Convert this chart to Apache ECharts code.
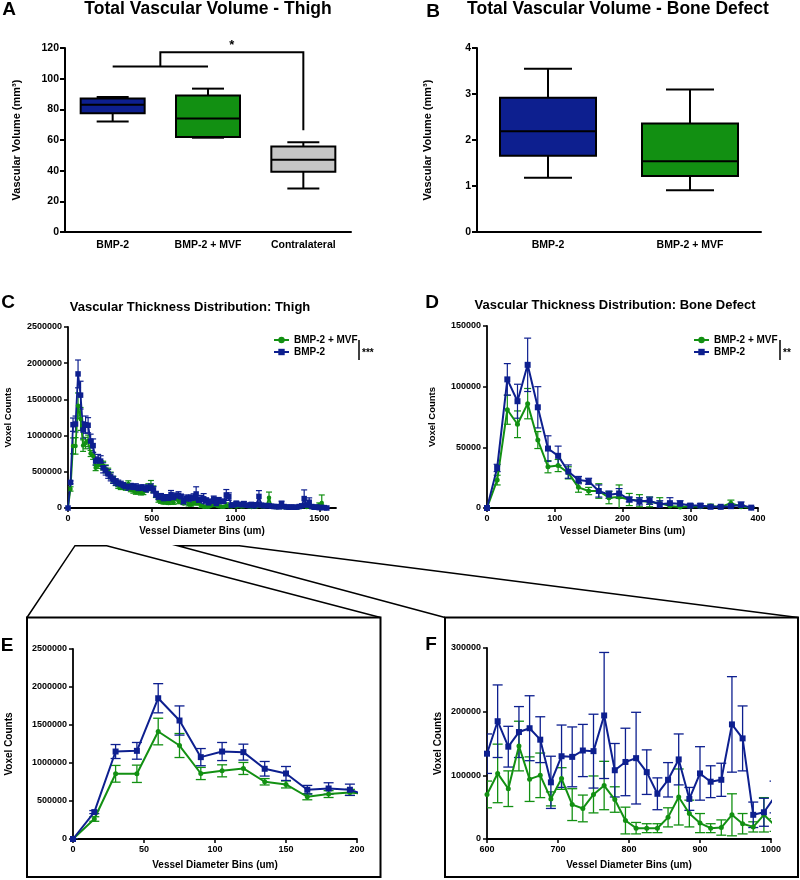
<!DOCTYPE html>
<html>
<head>
<meta charset="utf-8">
<title>Vascular volume and thickness distribution</title>
<script src="https://cdn.jsdelivr.net/npm/echarts@6.0.0/dist/echarts.min.js"></script>
<style>
  html, body { margin: 0; padding: 0; background: #fff; }
  #chart { width: 800px; height: 880px; }
</style>
</head>
<body>
<div id="chart"></div>
<script>
(function () {
  const FONT = "'Liberation Sans', Arial, sans-serif";
  const BLUE = "#0d1f8f";
  const GREEN = "#129012";
  const GREY = "#c6c6c6";

  // A: total vascular volume, thigh  [min, q1, median, q3, max]
  const catsA = ["BMP-2", "BMP-2 + MVF", "Contralateral"];
  const boxA = [
    [72, 77.5, 83, 87, 88],
    [61.5, 62, 74, 89, 93.5],
    [28.3, 39.3, 47.2, 55.8, 58.6],
  ];
  const bracketLowA = 108;
  const bracketHighA = 117.3;
  const bracketDropA = 66.3;

  // B: total vascular volume, bone defect
  const catsB = ["BMP-2", "BMP-2 + MVF"];
  const boxB = [
    [1.18, 1.66, 2.19, 2.92, 3.55],
    [0.91, 1.22, 1.54, 2.36, 3.1],
  ];

  // thigh distribution (C, E, F share these)
  const thighBins = [
    0, 15, 30, 45, 60, 75, 90, 105, 120, 135, 150, 165, 180, 195,
    210, 225, 240, 255, 270, 285, 300, 315, 330, 345, 360, 375, 390, 405, 420, 435, 450, 465, 480, 495, 510, 525, 540, 555, 570, 585,
    600, 615, 630, 645, 660, 675, 690, 705, 720, 735, 750, 765, 780, 795, 810, 825, 840, 855, 870, 885, 900, 915, 930, 945, 960, 975, 990,
    1005, 1020, 1035, 1050, 1065, 1080, 1095, 1110, 1125, 1140, 1155, 1170, 1185, 1200, 1215, 1230, 1245, 1260, 1275, 1290,
    1305, 1320, 1335, 1350, 1365, 1380, 1395, 1410, 1425, 1440, 1455, 1470, 1485, 1500, 1515, 1530, 1545,
  ];
  const thighBmp = [
    0, 354000, 1151000, 1160000, 1852000, 1559000, 1077000, 1151000, 1143000, 924000, 862000, 648000, 665000, 648000,
    555000, 520000, 470000, 430000, 390000, 360000, 340000, 330000, 310000, 300000, 290000, 300000, 285000, 290000, 270000, 280000, 275000, 260000, 280000, 290000, 250000, 190000, 150000, 160000, 130000, 150000,
    134000, 185000, 145000, 168000, 174000, 156000, 89000, 130000, 129000, 139000, 138000, 194000, 108000, 121000, 127000, 105000, 71000, 93000, 125000, 63000, 103000, 90000, 93000, 180000, 158000, 38000, 42000,
    66000, 50000, 45000, 60000, 40000, 35000, 50000, 30000, 45000, 160000, 40000, 30000, 35000, 30000, 25000, 20000, 20000, 15000, 60000, 20000,
    15000, 10000, 15000, 10000, 12000, 20000, 30000, 130000, 40000, 80000, 20000, 10000, 15000, 5000, 8000, 5000, 0,
  ];
  const thighBmpErr = [
    0, 20000, 92000, 110000, 192000, 192000, 113000, 119000, 105000, 96000, 92000, 57000, 75000, 74000,
    70000, 65000, 60000, 55000, 50000, 45000, 45000, 40000, 40000, 40000, 45000, 40000, 40000, 45000, 40000, 40000, 45000, 40000, 40000, 45000, 45000, 40000, 35000, 40000, 35000, 35000,
    31000, 57000, 32000, 40000, 51000, 36000, 41000, 49000, 47000, 41000, 58000, 99000, 42000, 53000, 72000, 35000, 25000, 27000, 40000, 18000, 42000, 25000, 26000, 75000, 51000, 20000, 22000,
    25000, 20000, 20000, 30000, 20000, 15000, 25000, 15000, 20000, 80000, 20000, 15000, 15000, 15000, 10000, 10000, 10000, 10000, 35000, 10000,
    8000, 5000, 8000, 5000, 6000, 10000, 15000, 120000, 25000, 60000, 10000, 5000, 8000, 3000, 4000, 3000, 0,
  ];
  const thighMvf = [
    0, 263000, 858000, 858000, 1414000, 1230000, 862000, 897000, 928000, 753000, 718000, 556000, 591000, 613000,
    586000, 540000, 500000, 450000, 390000, 350000, 310000, 290000, 300000, 280000, 330000, 260000, 240000, 220000, 230000, 210000, 220000, 260000, 290000, 310000, 260000, 180000, 110000, 90000, 75000, 80000,
    70000, 103000, 79000, 146000, 94000, 100000, 63000, 95000, 54000, 48000, 70000, 84000, 62000, 29000, 17000, 17000, 17000, 34000, 66000, 40000, 25000, 17000, 18000, 38000, 24000, 19000, 38000,
    22000, 30000, 20000, 25000, 30000, 20000, 15000, 25000, 20000, 40000, 25000, 20000, 30000, 140000, 30000, 15000, 10000, 20000, 15000, 10000,
    8000, 10000, 12000, 8000, 5000, 10000, 20000, 30000, 15000, 20000, 10000, 5000, 10000, 40000, 70000, 10000, 0,
  ];
  const thighMvfErr = [
    0, 30000, 110000, 114000, 175000, 158000, 80000, 79000, 79000, 42000, 46000, 40000, 45000, 40000,
    60000, 55000, 50000, 45000, 45000, 40000, 40000, 35000, 40000, 35000, 45000, 35000, 35000, 30000, 35000, 30000, 35000, 40000, 45000, 70000, 45000, 35000, 30000, 25000, 20000, 20000,
    21000, 46000, 28000, 39000, 35000, 35000, 11000, 17000, 25000, 21000, 29000, 38000, 20000, 21000, 9000, 7000, 7000, 15000, 44000, 21000, 15000, 7000, 12000, 33000, 16000, 8000, 27000,
    10000, 15000, 10000, 12000, 15000, 10000, 8000, 12000, 10000, 20000, 12000, 10000, 15000, 80000, 15000, 8000, 5000, 10000, 8000, 5000,
    4000, 5000, 6000, 4000, 3000, 5000, 10000, 15000, 8000, 10000, 5000, 3000, 5000, 30000, 110000, 5000, 0,
  ];

  // D: bone defect distribution
  const defectBins = [0, 15, 30, 45, 60, 75, 90, 105, 120, 135, 150, 165, 180, 195, 210, 225, 240, 255, 270, 285, 300, 315, 330, 345, 360, 375, 390];
  const defectBmp = [0, 33000, 106000, 88000, 118000, 83000, 49000, 43000, 30000, 23000, 22000, 14000, 11000, 12000, 7000, 5500, 6000, 3000, 4000, 3500, 2000, 2000, 1000, 1000, 1500, 2500, 300];
  const defectBmpErr = [0, 3000, 13000, 14000, 22000, 17000, 10500, 8000, 5500, 3000, 2500, 5000, 3000, 4000, 2000, 3000, 3000, 3000, 4500, 2500, 1500, 1500, 1000, 1000, 1500, 2500, 500];
  const defectMvf = [0, 23000, 81000, 69000, 86000, 56000, 34000, 35000, 29000, 17000, 14000, 14000, 8500, 9000, 7000, 6000, 5000, 4000, 1600, 800, 1400, 1000, 1600, 800, 4000, 1000, 300];
  const defectMvfErr = [0, 4000, 12000, 11000, 12500, 7000, 5000, 5000, 5000, 4000, 3000, 6000, 5000, 10000, 5000, 5000, 4000, 4500, 2000, 1500, 1500, 1000, 1500, 1000, 2500, 1500, 500];

  const ticksC = [0, 500, 1000, 1500];

  const chart = echarts.init(document.getElementById("chart"));

  function txt(size) {
    return { fontFamily: FONT, fontWeight: "bold", fontSize: size, color: "#000" };
  }

  function boxRender(boxW, fills) {
    return function (params, api) {
      const i = api.value(0);
      const p = [1, 2, 3, 4, 5].map((k) => api.coord([i, api.value(k)]));
      const cx = p[0][0];
      const hw = boxW / 2;
      const cw = boxW / 4;
      const ls = { stroke: "#000", lineWidth: 2 };
      return {
        type: "group",
        children: [
          { type: "line", shape: { x1: cx, y1: p[0][1], x2: cx, y2: p[1][1] }, style: ls },
          { type: "line", shape: { x1: cx, y1: p[3][1], x2: cx, y2: p[4][1] }, style: ls },
          { type: "line", shape: { x1: cx - cw, y1: p[0][1], x2: cx + cw, y2: p[0][1] }, style: ls },
          { type: "line", shape: { x1: cx - cw, y1: p[4][1], x2: cx + cw, y2: p[4][1] }, style: ls },
          {
            type: "rect",
            shape: { x: cx - hw, y: p[3][1], width: boxW, height: p[1][1] - p[3][1] },
            style: { fill: fills[params.dataIndex], stroke: "#000", lineWidth: 2 },
          },
          { type: "line", shape: { x1: cx - hw, y1: p[2][1], x2: cx + hw, y2: p[2][1] }, style: ls },
        ],
      };
    };
  }

  function errRender(cap, color, width) {
    return function (params, api) {
      const lo = api.coord([api.value(0), api.value(1)]);
      const hi = api.coord([api.value(0), api.value(2)]);
      const st = { stroke: color, lineWidth: width };
      return {
        type: "group",
        children: [
          { type: "line", shape: { x1: lo[0], y1: lo[1], x2: hi[0], y2: hi[1] }, style: st },
          { type: "line", shape: { x1: lo[0] - cap, y1: lo[1], x2: lo[0] + cap, y2: lo[1] }, style: st },
          { type: "line", shape: { x1: hi[0] - cap, y1: hi[1], x2: hi[0] + cap, y2: hi[1] }, style: st },
        ],
      };
    };
  }

  function lineSeries(name, g, xs, ys, color, symbol, size, width) {
    return {
      name: name,
      type: "line",
      xAxisIndex: g,
      yAxisIndex: g,
      data: xs.map((x, i) => [x, ys[i]]),
      symbol: symbol,
      symbolSize: size,
      showSymbol: true,
      showAllSymbol: true,
      lineStyle: { color: color, width: width },
      itemStyle: { color: color },
      emphasis: { disabled: true },
      clip: true,
      z: 3,
    };
  }

  function errSeries(g, xs, ys, es, color, cap, width) {
    return {
      name: "err" + g + color,
      type: "custom",
      xAxisIndex: g,
      yAxisIndex: g,
      clip: true,
      data: xs.map((x, i) => [x, ys[i] - es[i], ys[i] + es[i]]),
      encode: { x: 0, y: [1, 2] },
      renderItem: errRender(cap, color, width),
      z: 2,
    };
  }

  function catAxis(g, cats) {
    return {
      type: "category",
      gridIndex: g,
      data: cats,
      axisLine: { lineStyle: { color: "#000", width: 2 } },
      axisTick: { alignWithLabel: true, length: 5, lineStyle: { color: "#000", width: 2 } },
      axisLabel: Object.assign({ interval: 0, margin: 8 }, txt(10.5)),
      splitLine: { show: false },
    };
  }

  function valAxis(g, min, max, interval, fontSize, extra) {
    return Object.assign(
      {
        type: "value",
        gridIndex: g,
        min: min,
        max: max,
        interval: interval,
        axisLine: { show: true, lineStyle: { color: "#000", width: 1.8 } },
        axisTick: { show: true, length: 4, lineStyle: { color: "#000", width: 1.5 } },
        axisLabel: Object.assign({ margin: 6, formatter: (v) => String(v) }, txt(fontSize)),
        splitLine: { show: false },
      },
      extra || {}
    );
  }

  function yName(name, gap, size) {
    return { name: name, nameLocation: "middle", nameGap: gap, nameRotate: 90, nameTextStyle: txt(size) };
  }

  function xName(name, gap) {
    return { name: name, nameLocation: "middle", nameGap: gap, nameTextStyle: txt(10) };
  }

  const legendBase = {
    data: ["BMP-2 + MVF", "BMP-2"],
    orient: "vertical",
    top: 335,
    padding: 0,
    itemGap: 2,
    itemWidth: 15,
    itemHeight: 8,
    selectedMode: false,
    textStyle: txt(10),
  };

  const option = {
    animation: false,
    backgroundColor: "#fff",
    textStyle: { fontFamily: FONT },
    grid: [
      { left: 65, top: 48, width: 286, height: 184 },
      { left: 477, top: 48, width: 284, height: 184 },
      { left: 68, top: 327, width: 268, height: 181 },
      { left: 487, top: 326, width: 271, height: 182 },
      { left: 73, top: 649, width: 284, height: 190 },
      { left: 487, top: 648, width: 284, height: 191 },
    ],
    legend: [
      Object.assign({ left: 273 }, legendBase),
      Object.assign({ left: 693 }, legendBase),
    ],
    xAxis: [
      catAxis(0, catsA),
      catAxis(1, catsB),
      valAxis(2, 0, 1600, 500, 9, Object.assign(xName("Vessel Diameter Bins (um)", 18), {
        axisTick: { show: true, length: 4, customValues: ticksC, lineStyle: { color: "#000", width: 1.5 } },
        axisLabel: Object.assign({ margin: 6, customValues: ticksC, formatter: (v) => String(v) }, txt(9)),
      })),
      valAxis(3, 0, 400, 100, 9, xName("Vessel Diameter Bins (um)", 18)),
      valAxis(4, 0, 200, 50, 9, xName("Vessel Diameter Bins (um)", 21)),
      valAxis(5, 600, 1000, 100, 9, xName("Vessel Diameter Bins (um)", 21)),
    ],
    yAxis: [
      valAxis(0, 0, 120, 20, 10.5, Object.assign(yName("Vascular Volume (mm³)", 43, 11), {
        axisLine: { show: true, lineStyle: { color: "#000", width: 2 } },
        axisTick: { show: true, length: 5, lineStyle: { color: "#000", width: 2 } },
      })),
      valAxis(1, 0, 4, 1, 10.5, Object.assign(yName("Vascular Volume (mm³)", 44, 11), {
        axisLine: { show: true, lineStyle: { color: "#000", width: 2 } },
        axisTick: { show: true, length: 5, lineStyle: { color: "#000", width: 2 } },
      })),
      valAxis(2, 0, 2500000, 500000, 9, yName("Voxel Counts", 55, 9.5)),
      valAxis(3, 0, 150000, 50000, 9, yName("Voxel Counts", 50, 9.5)),
      valAxis(4, 0, 2500000, 500000, 9, yName("Voxel Counts", 59, 10)),
      valAxis(5, 0, 300000, 100000, 9, yName("Voxel Counts", 44, 10)),
    ],
    series: [
      {
        name: "Thigh volume",
        type: "custom",
        xAxisIndex: 0,
        yAxisIndex: 0,
        data: boxA.map((b, i) => [i].concat(b)),
        encode: { x: 0, y: [1, 2, 3, 4, 5] },
        renderItem: boxRender(64, [BLUE, GREEN, GREY]),
      },
      {
        name: "Defect volume",
        type: "custom",
        xAxisIndex: 1,
        yAxisIndex: 1,
        data: boxB.map((b, i) => [i].concat(b)),
        encode: { x: 0, y: [1, 2, 3, 4, 5] },
        renderItem: boxRender(96, [BLUE, GREEN]),
      },
      // C
      errSeries(2, thighBins, thighMvf, thighMvfErr, GREEN, 3, 1.2),
      lineSeries("BMP-2 + MVF", 2, thighBins, thighMvf, GREEN, "circle", 4.5, 1.8),
      errSeries(2, thighBins, thighBmp, thighBmpErr, BLUE, 3, 1.2),
      lineSeries("BMP-2", 2, thighBins, thighBmp, BLUE, "rect", 5.5, 1.8),
      // D
      errSeries(3, defectBins, defectMvf, defectMvfErr, GREEN, 3.5, 1.2),
      lineSeries("BMP-2 + MVF", 3, defectBins, defectMvf, GREEN, "circle", 5, 2),
      errSeries(3, defectBins, defectBmp, defectBmpErr, BLUE, 3.5, 1.2),
      lineSeries("BMP-2", 3, defectBins, defectBmp, BLUE, "rect", 6, 2),
      // E
      errSeries(4, thighBins, thighMvf, thighMvfErr, GREEN, 5, 1.3),
      lineSeries("BMP-2 + MVF", 4, thighBins, thighMvf, GREEN, "circle", 5, 2),
      errSeries(4, thighBins, thighBmp, thighBmpErr, BLUE, 5, 1.3),
      lineSeries("BMP-2", 4, thighBins, thighBmp, BLUE, "rect", 6, 2),
      // F
      errSeries(5, thighBins, thighMvf, thighMvfErr, GREEN, 5, 1.3),
      lineSeries("BMP-2 + MVF", 5, thighBins, thighMvf, GREEN, "circle", 5, 2),
      errSeries(5, thighBins, thighBmp, thighBmpErr, BLUE, 5, 1.3),
      lineSeries("BMP-2", 5, thighBins, thighBmp, BLUE, "rect", 6, 2),
    ],
  };

  chart.setOption(option);

  // annotations: panel letters, titles, significance marks, zoom boxes
  function label(x, y, text, size, align) {
    return {
      type: "text",
      x: x,
      y: y,
      style: {
        text: text,
        fontFamily: FONT,
        fontWeight: "bold",
        fontSize: size,
        fill: "#000",
        align: align || "center",
        verticalAlign: "middle",
      },
    };
  }

  function seg(points, width) {
    return { type: "polyline", shape: { points: points }, style: { stroke: "#000", lineWidth: width, fill: null } };
  }

  const pA = catsA.map((c, i) => chart.convertToPixel({ gridIndex: 0 }, [i, bracketLowA]));
  const yHigh = chart.convertToPixel({ gridIndex: 0 }, [0, bracketHighA])[1];
  const yDrop = chart.convertToPixel({ gridIndex: 0 }, [0, bracketDropA])[1];
  const midX = (pA[0][0] + pA[1][0]) / 2;

  chart.setOption({
    graphic: [
      label(9, 10, "A", 19),
      label(208, 9, "Total Vascular Volume - Thigh", 17.5),
      label(433, 12, "B", 19),
      label(618, 9, "Total Vascular Volume - Bone Defect", 17.5),
      label(8, 303, "C", 19),
      label(190, 307, "Vascular Thickness Distribution: Thigh", 13),
      label(432, 303, "D", 19),
      label(615, 305, "Vascular Thickness Distribution: Bone Defect", 13),
      label(7, 646, "E", 19),
      label(431, 645, "F", 19),
      seg([[pA[0][0], pA[0][1]], [pA[1][0], pA[1][1]]], 2),
      seg([[midX, pA[0][1]], [midX, yHigh], [pA[2][0], yHigh], [pA[2][0], yDrop]], 2),
      label((midX + pA[2][0]) / 2, yHigh - 7, "*", 13),
      seg([[359, 340], [359, 360]], 1.5),
      label(362, 353, "***", 10, "left"),
      seg([[780, 340], [780, 360]], 1.5),
      label(783, 353, "**", 10, "left"),
      { type: "rect", shape: { x: 27, y: 617.5, width: 353.5, height: 259.5 }, style: { stroke: "#000", lineWidth: 2, fill: null } },
      { type: "rect", shape: { x: 445, y: 617.5, width: 353, height: 259.5 }, style: { stroke: "#000", lineWidth: 2, fill: null } },
      seg([[27, 617.5], [75, 545.7], [106.7, 545.7], [380.5, 617.5]], 1.5),
      seg([[445, 617.5], [177.7, 545.7], [239.3, 545.7], [798, 617.5]], 1.5),
    ],
  });

  window.addEventListener("resize", () => {
    chart.resize();
  });
})();
</script>
</body>
</html>
